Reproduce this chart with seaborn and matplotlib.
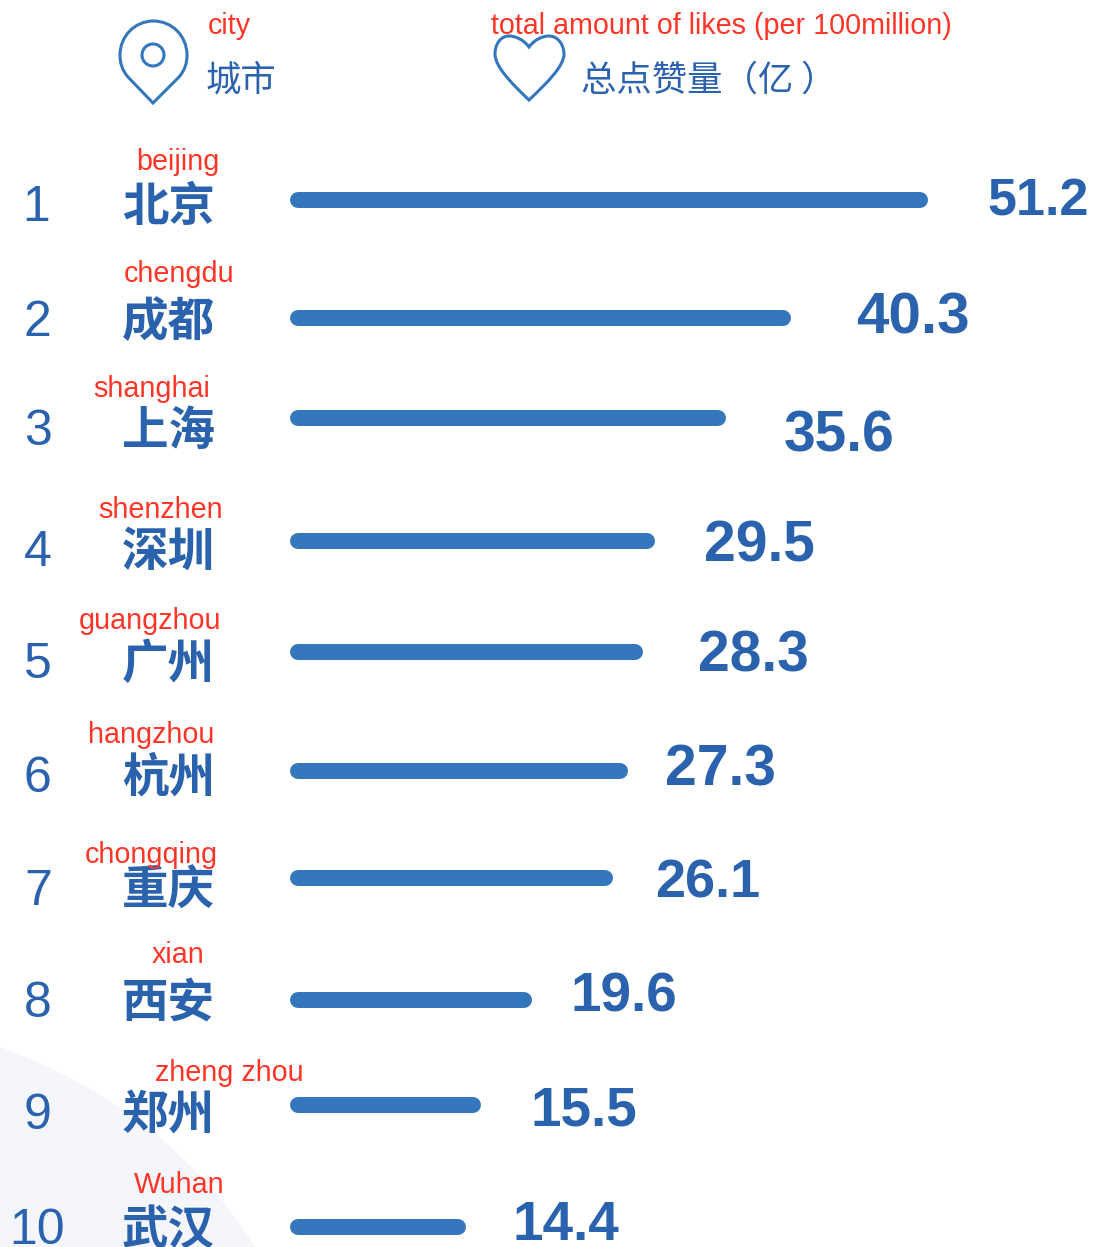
import matplotlib
matplotlib.use('Agg')
import matplotlib.pyplot as plt
import seaborn as sns
import pandas as pd
from matplotlib.patches import PathPatch, Circle
from matplotlib.path import Path

# chart values
ranks = ['1', '2', '3', '4', '5', '6', '7', '8', '9', '10']
cities = ['北京', '成都', '上海', '深圳', '广州', '杭州', '重庆', '西安', '郑州', '武汉']
cities_en = ['beijing', 'chengdu', 'shanghai', 'shenzhen', 'guangzhou', 'hangzhou',
             'chongqing', 'xian', 'zheng zhou', 'Wuhan']
likes = ['51.2', '40.3', '35.6', '29.5', '28.3', '27.3', '26.1', '19.6', '15.5', '14.4']
# the drawn bars are a little off from their labels in the original, so read separately
bar_lengths = [51.2, 40.2, 35.0, 29.3, 28.3, 27.1, 25.9, 19.4, 15.3, 14.1]

# row layout in image pixels, the rows are not evenly spaced in the original
bar_y = [200, 318, 418, 541, 652, 771, 878, 1000, 1105, 1227]
value_x = [987, 856, 784, 704, 698, 665, 655, 570, 530, 512]
value_y = [215, 334, 451, 562, 671, 786, 898, 1011, 1126, 1240]
value_size = [37.5, 42, 41, 41, 41, 41, 39, 39.5, 39.5, 39.5]
rank_x = [22, 24, 24, 24, 24, 24, 24, 24, 24, 9]
row_y = [221, 336, 445, 566, 678, 792, 905, 1017, 1129, 1244]
en_x = [136, 124, 93, 98, 79, 88, 85, 152, 155, 134]
en_y = [170, 282, 397, 518, 629, 743, 863, 963, 1081, 1193]

W, H = 1093, 1247
BLUE = '#3477bd'
TEXT_BLUE = '#2a62ad'
RED = '#ff3527'
CJK = ['Noto Sans CJK SC', 'DejaVu Sans']
LATIN = 'Liberation Sans'
PX_PER_UNIT = 12.46
BAR_LEFT = 290

sns.set_theme(style='white')

fig = plt.figure(figsize=(W / 100, H / 100), dpi=100)

# full figure axes in pixels for the text and icons
bg = fig.add_axes([0, 0, 1, 1])
bg.set_xlim(0, W)
bg.set_ylim(H, 0)
bg.axis('off')

# pale shape in the bottom left corner
bg.add_patch(PathPatch(Path([(0, 1047), (170, 1110), (255, 1247), (0, 1247), (0, 1047)],
                            [Path.MOVETO, Path.CURVE3, Path.CURVE3, Path.LINETO, Path.CLOSEPOLY]),
                       fc='#f5f6fb', ec='none', zorder=0))

# bars
ax = fig.add_axes([BAR_LEFT / W, 0, (W - BAR_LEFT) / W, 1])
ax.patch.set_alpha(0)
df = pd.DataFrame({'likes': bar_lengths, 'y': bar_y})
sns.barplot(data=df, x='likes', y='y', orient='h', native_scale=True,
            color=BLUE, saturation=1, width=0.16, ax=ax)
ax.set_xlim(0, (W - BAR_LEFT) / PX_PER_UNIT)
ax.set_ylim(H, 0)
ax.axis('off')

# swap the square bars for round capped lines of the same size
for bar in list(ax.patches):
    x0, y0, w, h = bar.get_x(), bar.get_y(), bar.get_width(), bar.get_height()
    r = abs(h) / 2 / PX_PER_UNIT
    ax.plot([x0 + r, x0 + w - r], [y0 + h / 2, y0 + h / 2], color=BLUE,
            lw=abs(h) * 0.72, solid_capstyle='round')
    bar.remove()

# rows
for i in range(len(ranks)):
    bg.text(rank_x[i], row_y[i], ranks[i], family=LATIN, fontsize=36, color=TEXT_BLUE, va='baseline')
    bg.text(122, row_y[i], cities[i], family=CJK, fontweight='bold', fontsize=33.5,
            color=TEXT_BLUE, va='baseline')
    bg.text(en_x[i], en_y[i], cities_en[i], family=LATIN, fontsize=20.7, color=RED, va='baseline', zorder=5)
    bg.text(value_x[i], value_y[i], likes[i], family=LATIN, fontweight='bold', fontsize=value_size[i],
            color=TEXT_BLUE, va='baseline')

# header icons
C4 = Path.CURVE4
pin = Path([(153, 103), (128, 77), (122, 70), (120, 63), (120, 55), (120, 36), (135, 21), (153.5, 21),
            (172, 21), (187, 36), (187, 55), (187, 63), (185, 70), (179, 77), (153, 103), (153, 103)],
           [Path.MOVETO, Path.LINETO, C4, C4, C4, C4, C4, C4, C4, C4, C4, C4, C4, C4, Path.LINETO, Path.CLOSEPOLY])
bg.add_patch(PathPatch(pin, fc='none', ec=BLUE, lw=2.2, joinstyle='miter'))
bg.add_patch(Circle((153, 55), 11, fc='none', ec=BLUE, lw=2.2))
heart = Path([(529, 47), (523, 39), (515, 36), (509, 36), (500, 36), (495, 45), (495, 54),
              (495, 66), (510, 82), (529, 100), (548, 82), (564, 66), (564, 54),
              (564, 45), (558, 36), (549, 36), (543, 36), (535, 39), (529, 47), (529, 47)],
             [Path.MOVETO, C4, C4, C4, C4, C4, C4, C4, C4, C4, C4, C4, C4, C4, C4, C4, C4, C4, C4,
              Path.CLOSEPOLY])
bg.add_patch(PathPatch(heart, fc='none', ec=BLUE, lw=2.2))

# header text
bg.text(208, 34, 'city', family=LATIN, fontsize=20.7, color=RED, va='baseline')
bg.text(206, 91, '城市', family=CJK, fontsize=25.5, color=TEXT_BLUE, va='baseline')
bg.text(491, 34, 'total amount of likes (per 100million)', family=LATIN, fontsize=20.7, color=RED,
        va='baseline', zorder=5)
bg.text(581, 91, '总点赞量（亿 ）', family=CJK, fontsize=25.5, color=TEXT_BLUE, va='baseline')

fig.savefig('out.png', dpi=100)
